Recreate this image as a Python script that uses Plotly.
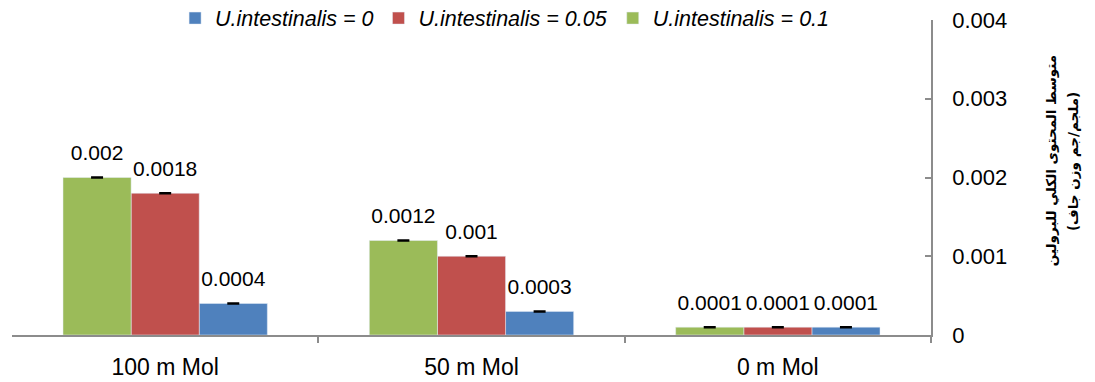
import plotly.graph_objects as go

categories = ["0 m Mol", "50 m Mol", "100 m Mol"]
series_names = ["U.intestinalis = 0", "U.intestinalis = 0.05", "U.intestinalis = 0.1"]
vals_0 = [0.0001, 0.0003, 0.0004]
vals_005 = [0.0001, 0.001, 0.0018]
vals_01 = [0.0001, 0.0012, 0.002]
labels_0 = ["0.0001", "0.0003", "0.0004"]
labels_005 = ["0.0001", "0.001", "0.0018"]
labels_01 = ["0.0001", "0.0012", "0.002"]
errors_0 = [0, 0, 0]
errors_005 = [0, 0, 0]
errors_01 = [0, 0, 0]
colors = ["#4F81BD", "#C0504D", "#9BBB59"]
y_tickvals = [0, 0.001, 0.002, 0.003, 0.004]
y_ticktext = ["0", "0.001", "0.002", "0.003", "0.004"]
y_title_line1 = "متوسط المحتوى الكلي للبرولين"
y_title_line2 = "(ملجم/جم وزن جاف)"

FONT = "Liberation Sans, Arial, sans-serif"
AXIS_GRAY = "#8C8C8C"

# page body has an 8px margin; plot area in page coords: x 12..931, y 20..335
fig = go.Figure()
for i, (name, vals, errs, col) in enumerate(zip(series_names, [vals_0, vals_005, vals_01],
                                                [errors_0, errors_005, errors_01], colors)):
    fig.add_trace(go.Bar(
        x=categories, y=vals, name=name, marker_color=col,
        offsetgroup=str(i), alignmentgroup="a",
        error_y=dict(type="data", array=errs, visible=True, color="black",
                     thickness=2.5, width=6),
    ))
for i, (name, vals, labs) in enumerate(zip(series_names, [vals_0, vals_005, vals_01],
                                          [labels_0, labels_005, labels_01])):
    fig.add_trace(go.Scatter(
        x=categories, y=vals, mode="markers+text", text=labs,
        textposition="top center", showlegend=False, hoverinfo="skip",
        offsetgroup=str(i), alignmentgroup="a",
        marker=dict(size=18, opacity=0, color="white"),
        textfont=dict(size=21, color="black", family=FONT), cliponaxis=False,
    ))

fig.update_layout(
    width=1095, height=382,
    margin=dict(l=4, r=172, t=12, b=55, autoexpand=False),
    plot_bgcolor="white", paper_bgcolor="white",
    barmode="group", bargap=0.333, bargroupgap=0,
    scattermode="group", scattergap=0.333,
    font=dict(family=FONT, size=22, color="black"),
    showlegend=True,
    legend=dict(orientation="h", x=0.536, xanchor="center", y=1.006, yanchor="middle",
                font=dict(size=21.5, family=FONT, style="italic"),
                itemwidth=30, tracegroupgap=0),
    xaxis=dict(autorange="reversed", showline=True, linecolor=AXIS_GRAY, linewidth=1.5,
               ticks="outside", tickson="boundaries", ticklen=6, tickcolor=AXIS_GRAY,
               tickwidth=1.5, showgrid=False, tickfont=dict(size=23), tickangle=0,
               ticklabelstandoff=11),
    yaxis=dict(side="right", range=[0, 0.004], tickvals=y_tickvals, ticktext=y_ticktext,
               showline=True, linecolor=AXIS_GRAY, linewidth=1.5,
               ticks="inside", ticklen=6, tickcolor=AXIS_GRAY, tickwidth=1.5,
               showgrid=False, zeroline=False, tickfont=dict(size=22),
               ticklabelstandoff=15, ticklabeloverflow="allow"),
    annotations=[
        dict(text="<b>" + y_title_line1 + "</b>", xref="paper", yref="paper",
             x=1.1306, y=0.552, textangle=-90, showarrow=False,
             font=dict(size=13.5, family="DejaVu Sans", color="black"),
             xanchor="center", yanchor="middle"),
        dict(text="<b>" + y_title_line2 + "</b>", xref="paper", yref="paper",
             x=1.1545, y=0.552, textangle=-90, showarrow=False,
             font=dict(size=13.5, family="DejaVu Sans", color="black"),
             xanchor="center", yanchor="middle"),
    ],
)

fig.write_html("out.html")
